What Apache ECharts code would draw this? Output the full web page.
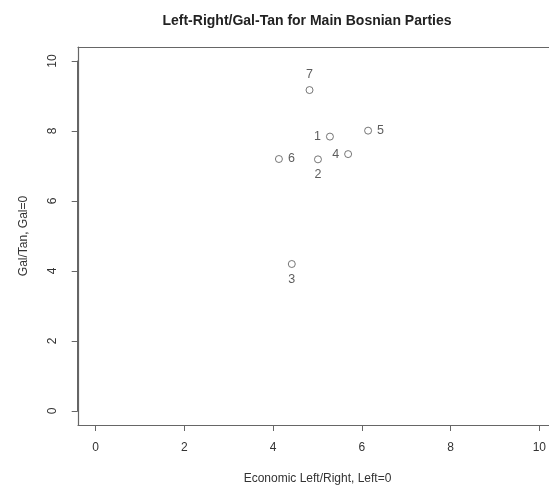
<!DOCTYPE html>
<html>
<head>
<meta charset="utf-8">
<script src="https://cdn.jsdelivr.net/npm/echarts@6/dist/echarts.min.js"></script>
<style>html,body{margin:0;padding:0;background:#fff}#c{width:549px;height:492px}</style>
</head>
<body>
<div id="c"></div>
<script>
var partyLabels = ['1', '2', '3', '4', '5', '6', '7'];
var econLeftRight = [5.28, 5.01, 4.42, 5.69, 6.14, 4.13, 4.82];
var galTan = [7.84, 7.19, 4.20, 7.34, 8.01, 7.20, 9.17];
var labelSide = ['left', 'bottom', 'bottom', 'left', 'right', 'right', 'top'];
var tickValues = [0, 2, 4, 6, 8, 10];

var chart = echarts.init(document.getElementById('c'), null, {renderer: 'canvas'});
var ff = '"Liberation Sans", Arial, sans-serif';
var pts = partyLabels.map(function (p, i) {
  return {
    value: [econLeftRight[i], galTan[i]],
    name: p,
    label: {position: labelSide[i]}
  };
});
var boxLine = {show: true, onZero: false, lineStyle: {color: '#666', width: 1.2}};
chart.setOption({
  animation: false,
  backgroundColor: '#fff',
  title: {
    text: 'Left-Right/Gal-Tan for Main Bosnian Parties',
    left: 302, top: 9, textAlign: 'center',
    textStyle: {fontFamily: ff, fontSize: 14, fontWeight: 'bold', color: '#222'}
  },
  grid: [
    {left: 95.7, right: 9, top: 61, bottom: 81, show: false},
    {left: 78, right: 0, top: 47, bottom: 67, show: false}
  ],
  xAxis: [
    {gridIndex: 0, type: 'value', min: 0, max: 10, interval: 2, offset: 14,
     name: 'Economic Left/Right, Left=0', nameLocation: 'middle', nameGap: 48,
     nameTextStyle: {fontFamily: ff, fontSize: 12, color: '#333'},
     axisLine: {show: true, onZero: false, lineStyle: {color: '#666', width: 1}},
     axisTick: {show: true, length: 6, lineStyle: {color: '#666'}},
     axisLabel: {fontFamily: ff, fontSize: 12, color: '#333', margin: 17},
     splitLine: {show: false}},
    {gridIndex: 1, type: 'value', min: -0.4, max: 10.2, position: 'bottom',
     axisLine: boxLine, axisTick: {show: false}, axisLabel: {show: false}, splitLine: {show: false}},
    {gridIndex: 1, type: 'value', min: -0.4, max: 10.2, position: 'top',
     axisLine: boxLine, axisTick: {show: false}, axisLabel: {show: false}, splitLine: {show: false}}
  ],
  yAxis: [
    {gridIndex: 0, type: 'value', min: 0, max: 10, interval: 2, offset: 18,
     name: 'Gal/Tan, Gal=0', nameLocation: 'middle', nameGap: 48,
     nameTextStyle: {fontFamily: ff, fontSize: 12, color: '#333'},
     axisLine: {show: true, onZero: false, lineStyle: {color: '#666', width: 1}},
     axisTick: {show: true, length: 6, lineStyle: {color: '#666'}},
     axisLabel: {fontFamily: ff, fontSize: 12, color: '#333', margin: 19, rotate: 90},
     splitLine: {show: false}},
    {gridIndex: 1, type: 'value', min: -0.4, max: 10.4, position: 'left',
     axisLine: boxLine, axisTick: {show: false}, axisLabel: {show: false}, splitLine: {show: false}}
  ],
  series: [{
    type: 'scatter',
    xAxisIndex: 0, yAxisIndex: 0,
    symbol: 'circle', symbolSize: 7,
    itemStyle: {color: '#fff', borderColor: '#555', borderWidth: 1},
    label: {show: true, formatter: '{b}', distance: 5,
      fontFamily: ff, fontSize: 12.5, color: '#333'},
    data: pts
  }]
});
</script>
</body>
</html>
